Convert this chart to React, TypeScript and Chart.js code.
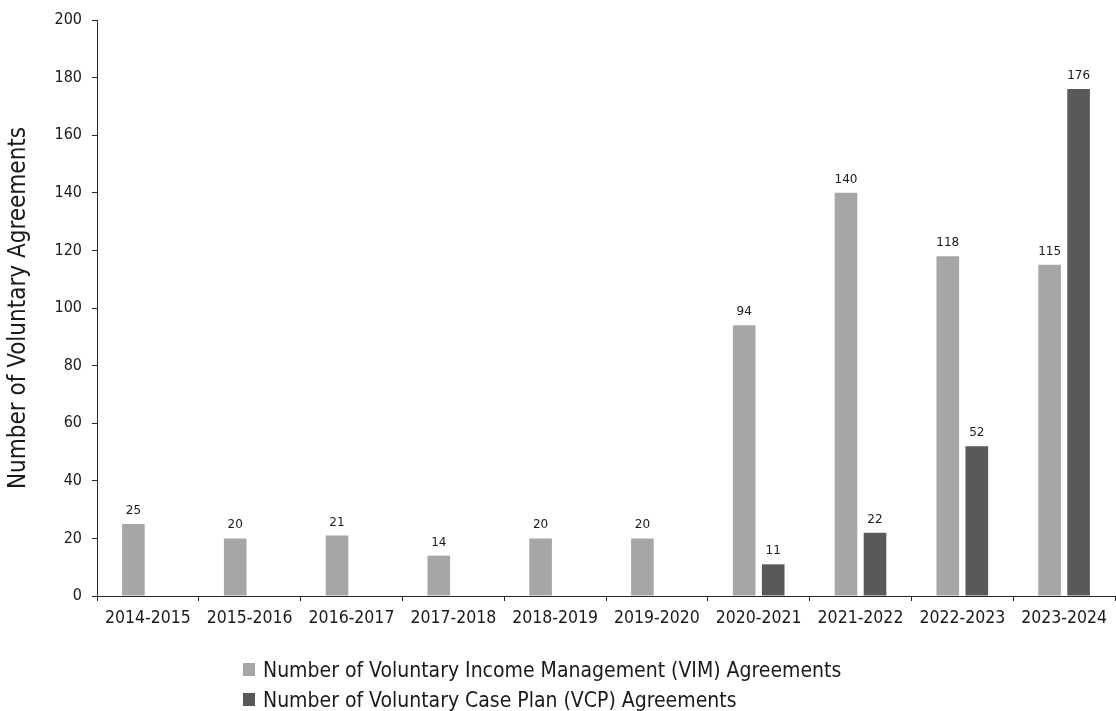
import React, { useEffect, useRef } from "react";
import { Chart, registerables } from "chart.js";

Chart.register(...registerables);

const categories = [
  "2014-2015",
  "2015-2016",
  "2016-2017",
  "2017-2018",
  "2018-2019",
  "2019-2020",
  "2020-2021",
  "2021-2022",
  "2022-2023",
  "2023-2024",
];
const vimValues = [25, 20, 21, 14, 20, 20, 94, 140, 118, 115];
const vcpValues: (number | null)[] = [null, null, null, null, null, null, 11, 22, 52, 176];
const seriesLabels = [
  "Number of Voluntary Income Management (VIM) Agreements",
  "Number of Voluntary Case Plan (VCP) Agreements",
];
const seriesColors = ["#a6a6a6", "#595959"];
const yAxisTitle = "Number of Voluntary Agreements";
const yMin = 0;
const yMax = 200;
const yStep = 20;

const FONT = "'DejaVu Sans Condensed', 'DejaVu Sans', sans-serif";
const TEXT = "#1a1a1a";
const AXIS = "#262626";

const valueLabels = {
  id: "valueLabels",
  afterDatasetsDraw(chart: any) {
    const ctx = chart.ctx;
    ctx.save();
    ctx.font = "12px 'DejaVu Sans', sans-serif";
    ctx.fillStyle = TEXT;
    ctx.textAlign = "center";
    ctx.textBaseline = "alphabetic";
    chart.data.datasets.forEach((ds: any, di: number) => {
      const meta = chart.getDatasetMeta(di);
      meta.data.forEach((el: any, i: number) => {
        const v = ds.data[i];
        if (v === null || v === undefined) return;
        ctx.fillText(String(v), el.x, el.y - 10);
      });
    });
    ctx.restore();
  },
};

const sideLegend = {
  id: "sideLegend",
  afterDraw(chart: any) {
    const ctx = chart.ctx;
    ctx.save();
    ctx.font = `21px ${FONT}`;
    ctx.textAlign = "left";
    ctx.textBaseline = "alphabetic";
    const x0 = 243;
    const base0 = 677;
    const rowGap = 30;
    chart.data.datasets.forEach((ds: any, i: number) => {
      const baseline = base0 + i * rowGap;
      ctx.fillStyle = ds.backgroundColor;
      ctx.fillRect(x0, baseline - 14, 12, 13);
      ctx.fillStyle = TEXT;
      ctx.fillText(ds.label, x0 + 20, baseline);
    });
    ctx.restore();
  },
};

export default function App() {
  const ref = useRef<HTMLCanvasElement | null>(null);

  useEffect(() => {
    document.body.style.margin = "0";
    const canvas = ref.current;
    if (!canvas) return;
    const chart = new Chart(canvas, {
      type: "bar",
      data: {
        labels: categories,
        datasets: [
          {
            label: seriesLabels[0],
            data: vimValues,
            backgroundColor: seriesColors[0],
            categoryPercentage: 0.57,
            barPercentage: 0.78,
          },
          {
            label: seriesLabels[1],
            data: vcpValues,
            backgroundColor: seriesColors[1],
            categoryPercentage: 0.57,
            barPercentage: 0.78,
          },
        ],
      },
      options: {
        responsive: false,
        animation: false,
        devicePixelRatio: 1,
        layout: { padding: { top: 20, right: 1, bottom: 0, left: 0 } },
        plugins: {
          legend: { display: false },
          tooltip: { enabled: false },
          title: { display: false },
        },
        scales: {
          x: {
            type: "category",
            offset: true,
            grid: {
              display: true,
              drawOnChartArea: false,
              drawTicks: true,
              tickLength: 5,
              color: AXIS,
              lineWidth: 1,
              offset: true,
            },
            border: { display: true, color: AXIS, width: 1 },
            ticks: {
              color: TEXT,
              font: { family: FONT, size: 17.5 },
              padding: 7,
              maxRotation: 0,
              minRotation: 0,
              autoSkip: false,
            },
            afterFit: (s: any) => {
              s.height = 115;
            },
          },
          y: {
            min: yMin,
            max: yMax,
            grid: {
              display: true,
              drawOnChartArea: false,
              drawTicks: true,
              tickLength: 5,
              color: AXIS,
              lineWidth: 1,
            },
            border: { display: true, color: AXIS, width: 1 },
            ticks: {
              stepSize: yStep,
              color: TEXT,
              font: { family: FONT, size: 16 },
              padding: 10,
            },
            title: {
              display: true,
              text: yAxisTitle,
              color: TEXT,
              font: { family: FONT, size: 24 },
            },
            afterFit: (s: any) => {
              s.width = 97;
            },
          },
        },
      },
      plugins: [valueLabels, sideLegend],
    });
    return () => chart.destroy();
  }, []);

  return (
    <div style={{ position: "absolute", left: 0, top: 0, width: 1116, height: 711, background: "#fff" }}>
      <canvas ref={ref} width={1116} height={711} style={{ width: 1116, height: 711, display: "block" }} />
    </div>
  );
}
